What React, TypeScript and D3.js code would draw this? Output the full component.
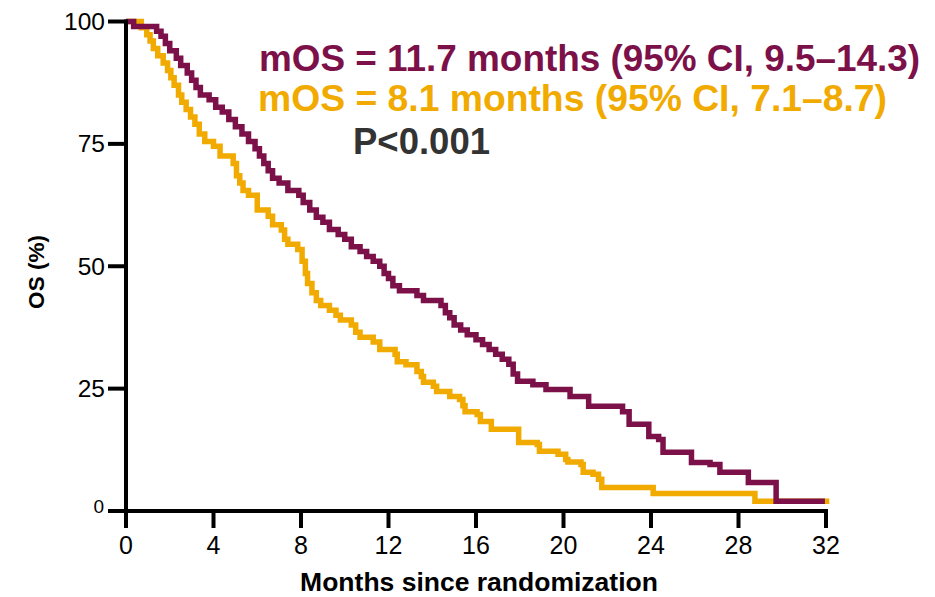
import React from "react";
import * as d3 from "d3";

const xTicks = [0, 4, 8, 12, 16, 20, 24, 28, 32];
const yTicks = [0, 25, 50, 75, 100];

const xTitle = "Months since randomization";
const yTitle = "OS (%)";
const line1 = "mOS = 11.7 months (95% CI, 9.5–14.3)";
const line2 = "mOS = 8.1 months (95% CI, 7.1–8.7)";
const line3 = "P<0.001";

// Purple arm: event times (months) and survival (%) after each drop
const purpleMonths = [
  0, 0.35, 1.4, 1.6, 1.8, 2.0, 2.3, 2.5, 2.8, 3.0, 3.2, 3.4, 3.8, 4.1, 4.4, 4.7,
  5.0, 5.3, 5.6, 5.9, 6.1, 6.3, 6.5, 6.7, 7.0, 7.4, 7.9, 8.1, 8.4, 8.7, 9.0, 9.3,
  9.7, 10.0, 10.3, 10.7, 11.0, 11.3, 11.6, 11.8, 12.0, 12.2, 12.5, 13.3, 13.6,
  14.4, 14.6, 14.8, 15.0, 15.3, 15.6, 16.0, 16.3, 16.6, 16.9, 17.2, 17.5, 17.7,
  17.9, 18.6, 19.2, 20.3, 21.15, 22.7, 23.0, 23.9, 24.35, 24.55, 25.85, 26.7,
  27.15, 28.45, 29.72,
];
const purpleSurv = [
  100, 99, 98, 97, 95.5, 94, 92.5, 91, 89.5, 88, 86.5, 85, 84, 82.5, 81.5, 80,
  78.5, 77, 75.5, 74, 72.5, 71, 69.5, 68, 67, 65.5, 64.5, 63, 61.5, 60, 59, 57.5,
  56.5, 55.5, 54, 53, 52, 51, 50, 48.5, 47.5, 46, 45, 44, 43, 42, 40.5, 39.5, 38,
  37, 36, 35, 34, 33, 32, 31, 30, 28, 26.5, 25.8, 24.8, 23.4, 21.4, 20.3, 17.7,
  15.2, 14.6, 12.0, 9.9, 9.5, 7.9, 5.8, 2.0,
];
const purpleEnd = 31.95;

// Yellow arm
const yellowMonths = [
  0, 0.7, 0.95, 1.1, 1.25, 1.45, 1.7, 1.9, 2.05, 2.2, 2.4, 2.55, 2.75, 2.95, 3.15,
  3.35, 3.6, 4.0, 4.3, 4.9, 5.05, 5.2, 5.35, 5.6, 6.0, 6.5, 6.7, 7.1, 7.25, 7.4,
  7.85, 8.05, 8.2, 8.3, 8.5, 8.7, 8.9, 9.3, 9.6, 9.8, 10.3, 10.5, 10.7, 11.3, 11.6,
  12.3, 12.4, 12.8, 13.3, 13.5, 13.6, 14.05, 14.2, 14.8, 15.25, 15.4, 15.5, 16.05,
  16.2, 16.7, 17.95, 18.8, 18.9, 19.75, 20.1, 20.2, 20.8, 20.9, 21.35, 21.6, 21.75,
  24.1, 28.75,
];
const yellowSurv = [
  100, 98.7, 97.3, 96, 94.5, 93, 91.5, 90, 88.5, 87, 85, 83.5, 82, 80.5, 79, 77,
  75.5, 74.5, 72.5, 71, 68.5, 67, 65.5, 64.5, 61.5, 60.2, 58.5, 57.4, 55.5, 54.5,
  53.4, 51, 48.5, 46.5, 44.6, 43, 42, 41, 40, 39, 38, 36.5, 35.5, 34.5, 33, 32,
  30.5, 29.9, 28.5, 27.5, 26.3, 25.5, 24.4, 23.4, 22.8, 21.5, 20.3, 19.7, 18.3,
  16.7, 14.0, 13.6, 12.2, 11.6, 10.5, 10.0, 9.5, 7.9, 7.5, 6.5, 4.8, 3.6, 2.0,
];
const yellowEnd = 32.15;

const PURPLE = "#7c1149";
const YELLOW = "#f1aa00";

export default function App() {
  const x = d3.scaleLinear().domain([0, 32]).range([126, 826]);
  const y = d3.scaleLinear().domain([0, 100]).range([511, 21.5]);
  const line = d3
    .line<[number, number]>()
    .x((d) => x(d[0]))
    .y((d) => y(d[1]))
    .curve(d3.curveStepAfter);

  const mk = (t: number[], s: number[], end: number): [number, number][] => {
    const pts: [number, number][] = t.map((v, i) => [v, s[i]]);
    pts.push([end, s[s.length - 1]]);
    return pts;
  };
  const purple = mk(purpleMonths, purpleSurv, purpleEnd);
  const yellow = mk(yellowMonths, yellowSurv, yellowEnd);
  const font = "'Liberation Sans', Arial, sans-serif";

  return (
    <svg
      width={935}
      height={597}
      style={{ position: "absolute", left: 0, top: 0, background: "#fff" }}
      fontFamily={font}
    >
      <rect width={935} height={597} fill="#fff" />
      {/* curves */}
      <path d={line(yellow) || ""} fill="none" stroke={YELLOW} strokeWidth={5.5} />
      <path d={line(purple) || ""} fill="none" stroke={PURPLE} strokeWidth={5.5} />

      {/* y axis */}
      <line x1={x(0)} x2={x(0)} y1={y(100) - 2} y2={y(0) + 2} stroke="#000" strokeWidth={4} />
      {yTicks.map((t) => (
        <g key={"y" + t}>
          <line x1={108} x2={x(0)} y1={y(t)} y2={y(t)} stroke="#000" strokeWidth={4} />
          {t === 0 ? (
            <text x={104} y={y(t) + 2} textAnchor="end" fontSize={19} fill="#000">
              {t}
            </text>
          ) : (
            <text x={105} y={y(t) + 8.5} textAnchor="end" fontSize={24.5} fill="#000">
              {t}
            </text>
          )}
        </g>
      ))}
      {/* x axis */}
      <line x1={108} x2={x(32) + 2} y1={y(0)} y2={y(0)} stroke="#000" strokeWidth={4} />
      {xTicks.map((t) => (
        <g key={"x" + t}>
          <line x1={x(t)} x2={x(t)} y1={y(0)} y2={y(0) + 17} stroke="#000" strokeWidth={4} />
          <text x={x(t)} y={554} textAnchor="middle" fontSize={25} fill="#000">
            {t}
          </text>
        </g>
      ))}

      {/* titles */}
      <text
        x={479}
        y={591}
        textAnchor="middle"
        fontSize={26.5}
        fontWeight="bold"
        fill="#000"
      >
        {xTitle}
      </text>
      <text
        transform={`translate(44,${272}) rotate(-90)`}
        textAnchor="middle"
        fontSize={22.5}
        fontWeight="bold"
        fill="#000"
      >
        {yTitle}
      </text>

      {/* annotations */}
      <text x={259} y={71} fontSize={37} fontWeight="bold" fill={PURPLE} textLength={661} lengthAdjust="spacingAndGlyphs">
        {line1}
      </text>
      <text x={258} y={111} fontSize={37} fontWeight="bold" fill={YELLOW} textLength={629} lengthAdjust="spacingAndGlyphs">
        {line2}
      </text>
      <text x={353} y={154} fontSize={37} fontWeight="bold" fill="#333333" textLength={137} lengthAdjust="spacingAndGlyphs">
        {line3}
      </text>
    </svg>
  );
}
